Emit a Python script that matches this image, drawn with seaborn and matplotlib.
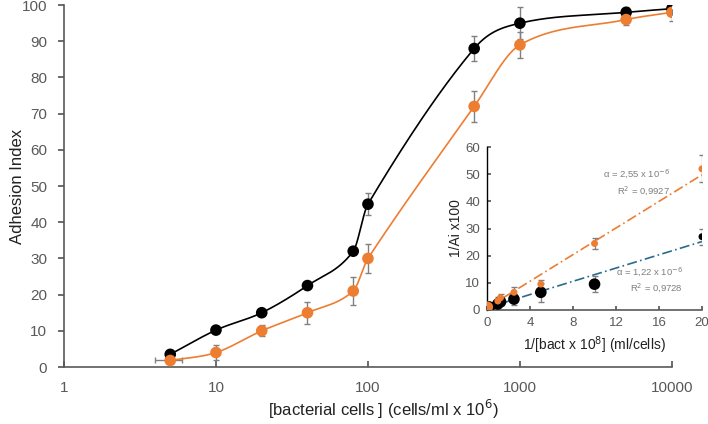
import numpy as np
import pandas as pd
import matplotlib
matplotlib.use("Agg")
import matplotlib.pyplot as plt
import seaborn as sns

sns.set_theme(style="white")
plt.rcParams['font.family'] = ['Liberation Sans', 'DejaVu Sans']

# ---- main data ----
conc = [5, 10, 20, 40, 80, 100, 500, 1000, 5000, 10000]
ai_black = [3.5, 10.2, 15, 22.5, 32, 45, 88, 95, 98, 99]
err_black = [0, 0, 0, 0, 0, 3, 3.5, 4.4, 1.5, 1]
ai_orange = [1.8, 4, 10, 15, 21, 30, 72, 89, 96, 98]
err_orange = [0, 2, 1.5, 3, 4, 4, 4.3, 3.6, 1.5, 2.5]
xerr_orange = [1, 0, 0, 0, 0, 0, 0, 0, 0, 0]

# ---- inset data ----
inv_bact = [0.01, 0.02, 0.1, 0.2, 1, 1.25, 2.5, 5, 10, 20]
inv_black = [1, 1, 1.05, 1.1, 2.2, 3, 4, 6.5, 9.5, 27]
inv_black_err = [0, 0, 0, 0, 0.8, 1, 2, 3.5, 3, 3]
inv_orange = [1, 1, 1.1, 1.4, 3.3, 4.5, 6.5, 9.5, 24.5, 52]
inv_orange_err = [0, 0, 0, 0, 1.5, 1.5, 2, 1.5, 2, 5]
fit_black = (1.22, 0.8)
fit_orange = (2.45, 0.8)

BLACK = "#000000"
ORANGE = "#ED7D31"
BLUE = "#2A6A8E"
GRAY = "#595959"
ERR = "#808080"


def smooth(xs, ys, n=40):
    """Cubic Hermite curve through the points (finite-difference tangents)."""
    x = np.asarray(xs, float); y = np.asarray(ys, float)
    m = np.empty_like(y)
    m[1:-1] = (y[2:] - y[:-2]) / (x[2:] - x[:-2])
    m[0] = (y[1] - y[0]) / (x[1] - x[0])
    m[-1] = (y[-1] - y[-2]) / (x[-1] - x[-2])
    ox, oy = [], []
    for i in range(len(x) - 1):
        h = x[i + 1] - x[i]
        t = np.linspace(0, 1, n)
        h00 = 2 * t**3 - 3 * t**2 + 1
        h10 = t**3 - 2 * t**2 + t
        h01 = -2 * t**3 + 3 * t**2
        h11 = t**3 - t**2
        ox.append(x[i] + t * h)
        oy.append(h00 * y[i] + h10 * h * m[i] + h01 * y[i + 1] + h11 * h * m[i + 1])
    return np.concatenate(ox), np.concatenate(oy)


fig = plt.figure(figsize=(7.08, 4.24), dpi=100)
ax = fig.add_axes([0.0904, 0.1344, 0.8586, 0.8536])

df = pd.DataFrame({"conc": conc * 2,
                   "ai": ai_black + ai_orange,
                   "series": ["A"] * len(conc) + ["B"] * len(conc)})

# smooth lines (in log-x space)
for yv, col in [(ai_black, BLACK), (ai_orange, ORANGE)]:
    sx, sy = smooth(np.log10(conc), yv)
    ax.plot(10 ** sx, sy, color=col, lw=1.2, zorder=2)

ax.errorbar(conc, ai_black, yerr=err_black, fmt="none", ecolor=ERR, elinewidth=1, capsize=2, zorder=1)
ax.errorbar(conc, ai_orange, yerr=err_orange, xerr=xerr_orange, fmt="none", ecolor=ERR,
            elinewidth=1, capsize=2, zorder=1)
sns.scatterplot(data=df, x="conc", y="ai", hue="series", palette={"A": BLACK, "B": ORANGE},
                s=70, edgecolor="none", legend=False, ax=ax, zorder=3)

ax.set_xscale("log")
ax.set_xlim(1, 10000)
ax.set_ylim(0, 100)
ax.set_yticks(range(0, 101, 10))
ax.set_xticks([1, 10, 100, 1000, 10000])
ax.set_xticklabels(["1", "10", "100", "1000", "10000"])
ax.minorticks_off()
for s in ["top", "right"]:
    ax.spines[s].set_visible(False)
for s in ["left", "bottom"]:
    ax.spines[s].set_color(GRAY)
    ax.spines[s].set_linewidth(1.2)
ax.tick_params(axis="y", direction="out", length=4, color=GRAY, labelcolor=GRAY, labelsize=11, pad=8, left=True)
ax.tick_params(axis="x", direction="in", length=4, color=GRAY, labelcolor=GRAY, labelsize=11, pad=10, bottom=True)
ax.set_xlabel("[bacterial cells ] (cells/ml x 10$^6$)", fontsize=12, color="#222222")
ax.xaxis.set_label_coords(0.525, -0.117)
ax.xaxis.label.set_va("center")
ax.set_ylabel("Adhesion Index", fontsize=12, color="#222222")
ax.yaxis.set_label_coords(-0.076, 0.5)
ax.yaxis.label.set_va("center")

# ---- inset ----
ins = fig.add_axes([0.688, 0.269, 0.3035, 0.384])
ins.patch.set_alpha(0)
xx = np.array([0, 20])
ins.plot(xx, fit_orange[0] * xx + fit_orange[1], color=ORANGE, lw=1.2, ls=(0, (6, 2, 1, 2)), zorder=1)
ins.plot(xx, fit_black[0] * xx + fit_black[1], color=BLUE, lw=1.2, ls=(0, (6, 2, 1, 2)), zorder=1)
ins.errorbar(inv_bact, inv_black, yerr=inv_black_err, fmt="none", ecolor=ERR, elinewidth=0.9, capsize=2, zorder=2)
ins.errorbar(inv_bact, inv_orange, yerr=inv_orange_err, fmt="none", ecolor=ERR, elinewidth=0.9, capsize=2, zorder=2)
sizes_b = [70] * (len(inv_bact) - 1) + [25]
sizes_o = [70, 40] + [25] * (len(inv_bact) - 2)
dfb = pd.DataFrame({"x": inv_bact, "y": inv_black})
dfo = pd.DataFrame({"x": inv_bact, "y": inv_orange})
sns.scatterplot(data=dfb, x="x", y="y", color=BLACK, s=sizes_b, edgecolor="none", legend=False, ax=ins, zorder=3)
sns.scatterplot(data=dfo, x="x", y="y", color=ORANGE, s=sizes_o, edgecolor="none", legend=False, ax=ins, zorder=4)
ins.set_xlim(0, 20)
ins.set_ylim(0, 60)
ins.set_xticks(range(0, 21, 4))
ins.set_yticks(range(0, 61, 10))
for s in ["top", "right"]:
    ins.spines[s].set_visible(False)
ins.spines["left"].set_color("#000000")
ins.spines["bottom"].set_color(GRAY)
ins.spines["left"].set_linewidth(1.0)
ins.spines["bottom"].set_linewidth(1.2)
ins.tick_params(axis="both", direction="in", length=3, color=GRAY, labelcolor=GRAY, labelsize=9.5,
                left=True, bottom=True, pad=5)
ins.set_xlabel("1/[bact x 10$^8$] (ml/cells)", fontsize=10, color="#222222", labelpad=4)
ins.set_ylabel("1/Ai x100", fontsize=10, color="#222222", labelpad=2)
tcol = "#7f7f7f"
ins.text(0.85, 0.785, "α = 2,55 x 10$^{-6}$\nR$^2$ = 0,9927", transform=ins.transAxes, ha="right", va="center",
         fontsize=6.8, color=tcol, linespacing=1.35, multialignment="right")
ins.text(0.91, 0.187, "α = 1,22 x 10$^{-6}$\nR$^2$ = 0,9728", transform=ins.transAxes, ha="right", va="center",
         fontsize=6.8, color=tcol, linespacing=1.35, multialignment="right")

fig.savefig("out.png", dpi=100)
